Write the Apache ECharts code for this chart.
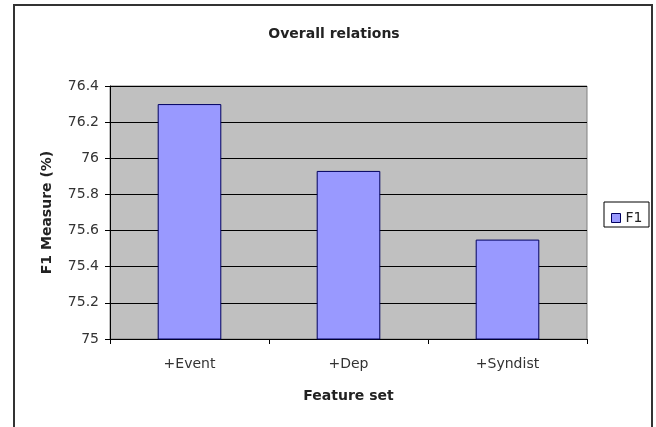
<!DOCTYPE html>
<html>
<head>
<meta charset="utf-8">
<script src="https://cdn.jsdelivr.net/npm/echarts@6/dist/echarts.min.js"></script>
<style>html,body{margin:0;padding:0;background:#fff}#c{width:656px;height:427px}</style>
</head>
<body>
<div id="c"></div>
<script>
var categories = ['+Event', '+Dep', '+Syndist'];
var f1Values = [76.30, 75.93, 75.55];
var yTicks = [75, 75.2, 75.4, 75.6, 75.8, 76, 76.2, 76.4];

var chart = echarts.init(document.getElementById('c'), null, {renderer: 'canvas'});
var font = '"DejaVu Sans", sans-serif';
chart.setOption({
  animation: false,
  backgroundColor: '#ffffff',
  title: {
    text: 'Overall relations',
    left: 329, top: 22, textAlign: 'center',
    textStyle: {fontFamily: font, fontSize: 14, fontWeight: 'bold', color: '#222'}
  },
  legend: {
    left: 606, top: 206,
    itemWidth: 9, itemHeight: 9, icon: 'rect', itemGap: 4,
    itemStyle: {borderColor: '#000060', borderWidth: 1},
    textStyle: {fontFamily: font, fontSize: 14, color: '#222'},
    data: ['F1']
  },
  grid: {left: 110, right: 69, top: 86, bottom: 88, show: true, backgroundColor: '#c0c0c0', borderColor: '#808080', borderWidth: 1},
  xAxis: {
    type: 'category', data: categories,
    name: 'Feature set', nameLocation: 'middle', nameGap: 50, nameMoveOverlap: false,
    nameTextStyle: {fontFamily: font, fontSize: 14, fontWeight: 'bold', color: '#222'},
    axisLine: {lineStyle: {color: '#000', width: 1}},
    axisTick: {show: true, length: 5, lineStyle: {color: '#000'}},
    axisLabel: {fontFamily: font, fontSize: 14, color: '#333', margin: 18}
  },
  yAxis: {
    type: 'value', min: yTicks[0], max: yTicks[yTicks.length - 1], interval: 0.2,
    name: 'F1 Measure (%)', nameLocation: 'middle', nameGap: 56, nameMoveOverlap: false,
    nameTextStyle: {fontFamily: font, fontSize: 14, fontWeight: 'bold', color: '#222'},
    axisLine: {show: true, lineStyle: {color: '#000', width: 1}},
    axisTick: {show: true, length: 5, lineStyle: {color: '#000'}},
    axisLabel: {fontFamily: font, fontSize: 14, color: '#333', margin: 11},
    splitLine: {show: true, lineStyle: {color: '#000', width: 1}}
  },
  series: [{
    name: 'F1', type: 'bar', data: f1Values, barWidth: '40%',
    itemStyle: {color: '#9999ff', borderColor: '#000060', borderWidth: 1}
  }],
  graphic: [
    {type: 'rect', shape: {x: 14, y: 5, width: 638, height: 440}, style: {fill: 'none', stroke: '#333', lineWidth: 2}, silent: true},
    {type: 'rect', shape: {x: 604, y: 202, width: 45, height: 25}, style: {fill: 'none', stroke: '#000', lineWidth: 1}, silent: true}
  ]
});
</script>
</body>
</html>
